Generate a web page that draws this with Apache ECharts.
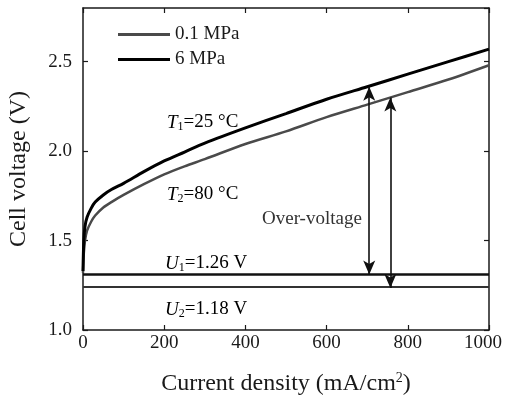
<!DOCTYPE html>
<html>
<head>
<meta charset="utf-8">
<script src="https://cdn.jsdelivr.net/npm/echarts@6/dist/echarts.min.js"></script>
<style>
  html, body { margin: 0; padding: 0; background: #fff; }
  #chart { width: 505px; height: 396px; }
</style>
</head>
<body>
<div id="chart"></div>
<script>
const xTicks = [0, 200, 400, 600, 800, 1000]
const yTicks = ['1.0', '1.5', '2.0', '2.5']

const current = [0, 2, 5, 10, 20, 30, 50, 70, 100, 150, 200, 250, 300, 400, 500, 600, 700, 800, 900, 1000]
const volt6MPa = [1.33, 1.50, 1.58, 1.63, 1.68, 1.715, 1.755, 1.785, 1.82, 1.885, 1.945, 1.995, 2.045, 2.13, 2.21, 2.29, 2.36, 2.43, 2.50, 2.57]
const volt01MPa = [1.32, 1.43, 1.50, 1.555, 1.605, 1.64, 1.685, 1.715, 1.755, 1.815, 1.87, 1.915, 1.955, 2.04, 2.11, 2.19, 2.26, 2.33, 2.40, 2.48]

const u1Drawn = 1.31
const u2Drawn = 1.24
const arrow1 = { x: 705, top: 2.36, bottom: 1.31 }
const arrow2 = { x: 757, top: 2.30, bottom: 1.235 }

const FONT = "'Liberation Serif', 'Times New Roman', serif"
const INK = '#1a1a1a'

const chart = echarts.init(document.getElementById('chart'))

const toPairs = (xs, ys) => xs.map((x, i) => [x, ys[i]])

const axisCommon = {
  axisLine: { show: true, onZero: false, lineStyle: { color: INK, width: 1.5 } },
  axisTick: { show: true, inside: true, length: 5, lineStyle: { color: INK, width: 1.2 } },
  splitLine: { show: false }
}

const subRich = {
  i: { fontFamily: FONT, fontSize: 19, fontStyle: 'italic', color: '#333' },
  sub: { fontFamily: FONT, fontSize: 12, color: '#333', padding: [9, 0, 0, 0] },
  n: { fontFamily: FONT, fontSize: 19, color: '#333' }
}

const option = {
  animation: false,
  backgroundColor: '#fff',
  grid: { left: 83, right: 16, top: 8, bottom: 66, outerBoundsMode: 'none' },
  legend: {
    data: ['0.1 MPa', '6 MPa'],
    orient: 'vertical',
    left: 113,
    top: 20,
    itemWidth: 52,
    itemHeight: 3,
    itemGap: 6,
    icon: 'rect',
    textStyle: { fontFamily: FONT, fontSize: 19, color: INK, padding: [8, 0, 0, 0] }
  },
  xAxis: [
    {
      type: 'value', min: 0, max: 1000, interval: 200, position: 'bottom',
      ...axisCommon,
      axisLabel: { fontFamily: FONT, fontSize: 19, color: INK, margin: 4,
        formatter: v => !xTicks.includes(v) ? '' : (v === 1000 ? '{last|1000}' : String(v)),
        rich: { last: { fontFamily: FONT, fontSize: 19, color: INK, padding: [0, 12, 0, 0] } } },
      name: 'Current density (mA/cm{sup|2})',
      nameLocation: 'middle',
      nameGap: 41,
      nameTextStyle: { fontFamily: FONT, fontSize: 24, color: INK,
        rich: { sup: { fontFamily: FONT, fontSize: 14, color: INK, padding: [0, 0, 12, 0] } } }
    },
    {
      type: 'value', min: 0, max: 1000, interval: 200, position: 'top',
      ...axisCommon,
      axisLabel: { show: false }
    }
  ],
  yAxis: [
    {
      type: 'value', min: 1.0, max: 2.8, interval: 0.5, position: 'left',
      ...axisCommon,
      axisLabel: { fontFamily: FONT, fontSize: 19, color: INK, margin: 11, showMaxLabel: false,
        formatter: v => yTicks.includes(v.toFixed(1)) ? v.toFixed(1) : '' },
      name: 'Cell voltage (V)',
      nameLocation: 'middle',
      nameGap: 52,
      nameTextStyle: { fontFamily: FONT, fontSize: 24, color: INK }
    },
    {
      type: 'value', min: 1.0, max: 2.8, interval: 0.5, position: 'right',
      ...axisCommon,
      axisLabel: { show: false }
    }
  ],
  series: [
    {
      name: '0.1 MPa', type: 'line', data: toPairs(current, volt01MPa),
      smooth: 0.3, showSymbol: false, color: '#4a4a4a',
      lineStyle: { color: '#4a4a4a', width: 2.5 }
    },
    {
      name: '6 MPa', type: 'line', data: toPairs(current, volt6MPa),
      smooth: 0.3, showSymbol: false, color: '#000',
      lineStyle: { color: '#000', width: 3 }
    },
    {
      name: 'U1', type: 'line', data: [[0, u1Drawn], [1000, u1Drawn]],
      showSymbol: false, lineStyle: { color: '#111', width: 2.5 }
    },
    {
      name: 'U2', type: 'line', data: [[0, u2Drawn], [1000, u2Drawn]],
      showSymbol: false, lineStyle: { color: '#333', width: 2 },
      markLine: {
        silent: true,
        symbol: ['arrow', 'arrow'],
        symbolSize: [9, 14],
        label: { show: false },
        lineStyle: { color: '#111', width: 1.6, type: 'solid' },
        data: [
          [{ coord: [arrow1.x, arrow1.top] }, { coord: [arrow1.x, arrow1.bottom] }],
          [{ coord: [arrow2.x, arrow2.top] }, { coord: [arrow2.x, arrow2.bottom] }]
        ]
      }
    }
  ],
  graphic: [
    { type: 'text', left: 167, top: 113, style: { text: '{i|T}{sub|1}{n|=25 °C}', rich: subRich } },
    { type: 'text', left: 167, top: 185, style: { text: '{i|T}{sub|2}{n|=80 °C}', rich: subRich } },
    { type: 'text', left: 262, top: 210, style: { text: 'Over-voltage', fontFamily: FONT, fontSize: 19, fill: '#333' } },
    { type: 'text', left: 165, top: 254, style: { text: '{i|U}{sub|1}{n|=1.26 V}', rich: subRich } },
    { type: 'text', left: 165, top: 300, style: { text: '{i|U}{sub|2}{n|=1.18 V}', rich: subRich } }
  ]
}

chart.setOption(option)
</script>
</body>
</html>
